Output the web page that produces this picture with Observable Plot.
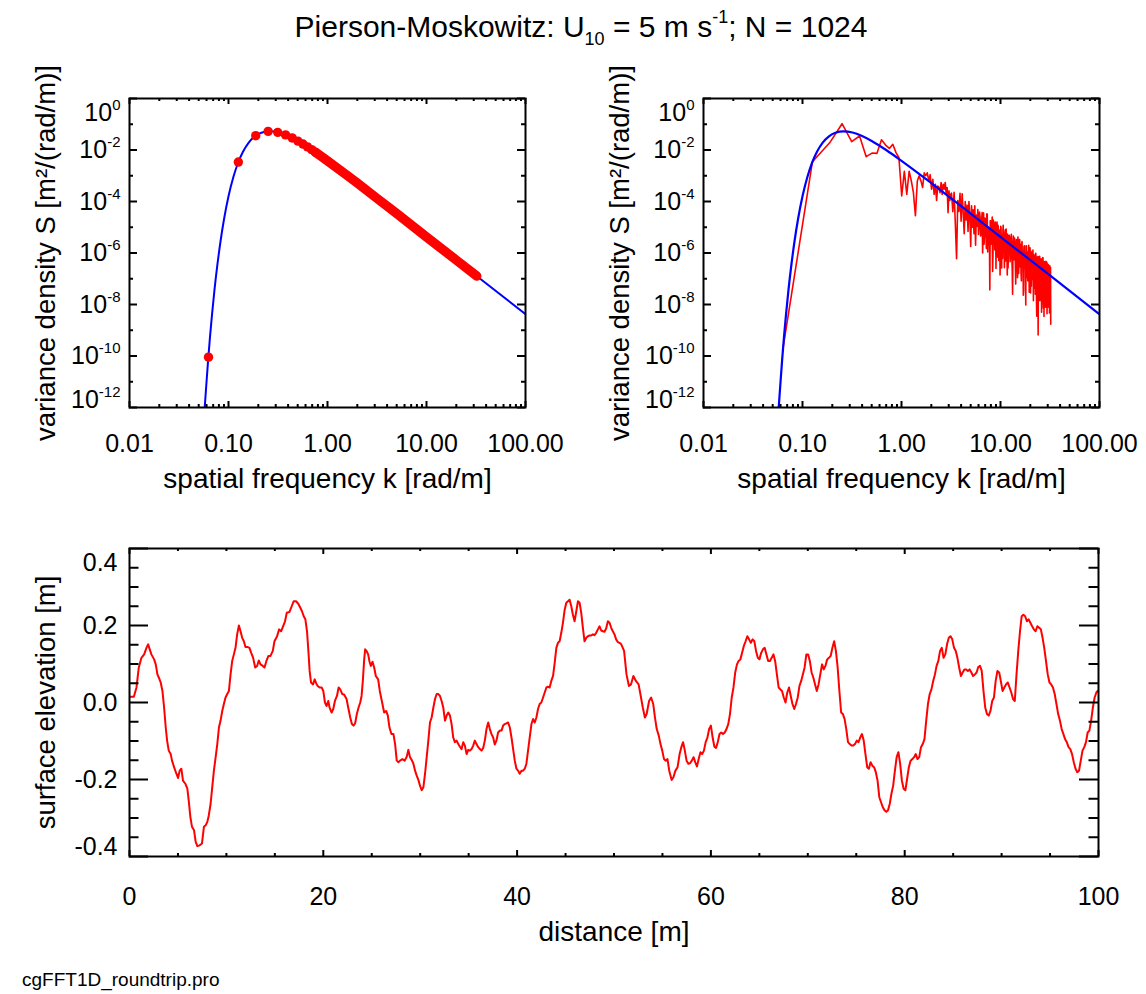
<!DOCTYPE html>
<html>
<head>
<meta charset="utf-8">
<script src="https://cdn.jsdelivr.net/npm/d3@7"></script>
<script src="https://cdn.jsdelivr.net/npm/@observablehq/plot@0.6"></script>
<style>
  html, body { margin: 0; padding: 0; background: #fff; }
  #page { position: relative; width: 1146px; height: 994px; background: #fff; overflow: hidden;
          font-family: "Liberation Sans", Arial, Helvetica, sans-serif; color: #000; }
  .panel { position: absolute; }
  #title { position: absolute; left: 0; width: 1162px; top: 9px; text-align: center; font-size: 30px;
           line-height: 36px; white-space: nowrap; z-index: 2; }
  #title .sub { font-size: 0.6em; position: relative; top: 0.45em; }
  #title .sup { font-size: 0.6em; position: relative; top: -0.8em; }
  #caption { position: absolute; left: 22px; top: 969px; font-size: 19px; line-height: 22px; z-index: 2; }
</style>
</head>
<body>
<div id="page">
  <div id="title">Pierson-Moskowitz: U<span class="sub">10</span> = 5 m s<span class="sup">-1</span>; N = 1024</div>
  <div id="specLeft" class="panel" style="left:0px;top:60px"></div>
  <div id="specRight" class="panel" style="left:575px;top:60px"></div>
  <div id="elev" class="panel" style="left:0px;top:520px"></div>
  <div id="caption">cgFFT1D_roundtrip.pro</div>
</div>
<script>
// ---------------- data ----------------
// Pierson-Moskowitz model spectrum (blue curve): wavenumber k [rad/m], S [m^2/(rad/m)]
const modelK = [0.0575, 0.060, 0.0622, 0.065, 0.068, 0.072, 0.077, 0.083, 0.090, 0.100,
                0.112, 0.125, 0.140, 0.160, 0.185, 0.215, 0.26, 0.32, 0.40, 0.50,
                0.70, 1.0, 2.0, 5.0, 10, 30, 100];
const modelS = [1.0e-12, 1.0e-11, 6.6e-11, 5.4e-10, 3.7e-9, 3.4e-8, 3.2e-7, 2.8e-6, 2.0e-5, 1.6e-4,
                8.9e-4, 3.2e-3, 8.5e-3, 0.0194, 0.034, 0.047, 0.053, 0.048, 0.035, 0.0225,
                0.0100, 3.8e-3, 5.2e-4, 3.4e-5, 4.2e-6, 1.57e-7, 4.2e-9];

// sampled spectrum (red dots, left panel): first harmonics one by one
const sampleK = [0.0628, 0.1257, 0.1885, 0.2513, 0.3142, 0.3770, 0.4398, 0.5027, 0.5655, 0.6283, 0.6912, 0.7540];
const sampleS = [9.0e-11, 3.4e-3, 0.036, 0.053, 0.0485, 0.0385, 0.0294, 0.0222, 0.0170, 0.0132, 0.0103, 0.0082];
// the dense run of overlapping dots from k = 0.75 to the Nyquist wavenumber
const sampleBandK = [0.754, 0.88, 1.0, 1.5, 2.0, 3.0, 5.0, 10, 20, 32.17];
const sampleBandS = [0.0082, 5.4e-3, 3.8e-3, 1.2e-3, 5.2e-4, 1.55e-4, 3.4e-5, 4.2e-6, 5.3e-7, 1.27e-7];

// round-trip (FFT of the surface) spectrum, red line in the right panel
const roundK = [
  0.063,0.126,0.188,0.251,0.314,0.377,0.440,0.503,0.565,0.628,
  0.691,0.754,0.817,0.880,0.942,1.005,1.068,1.131,1.194,1.257,
  1.319,1.382,1.445,1.508,1.571,1.634,1.696,1.759,1.822,1.885,
  1.948,2.011,2.073,2.136,2.199,2.262,2.325,2.388,2.450,2.513,
  2.576,2.639,2.702,2.765,2.827,2.890,2.953,3.016,3.079,3.142,
  3.2,3.3,3.4,3.5,3.6,3.7,3.8,3.9,4.0,4.1,
  4.2,4.3,4.4,4.5,4.6,4.7,4.8,4.9,5.0,5.1,
  5.2,5.3,5.4,5.5,5.6,5.7,5.8,5.9,6.0,
  6.15,6.3,6.45,6.6,6.75,6.9,7.05,7.2,7.35,7.5,
  7.65,7.8,7.95,8.1,8.25,8.4,8.55,8.7,8.85,9.0,
  9.15,9.3,9.45,9.6,9.75,9.9,10.05,10.2,10.35,10.5,
  10.65,10.8,10.95,11.1,11.25,11.4,11.55,11.7,11.85,12.0,
  12.25,12.5,12.75,13,13.25,13.5,13.75,14,14.25,14.5,
  14.75,15,15.25,15.5,15.75,16,16.25,16.5,16.75,17,
  17.25,17.5,17.75,18,18.25,18.5,18.75,19,19.25,19.5,
  19.75,20,20.25,20.5,20.75,21,21.25,21.5,21.75,22,
  22.25,22.5,22.75,23,23.25,23.5,23.75,24,24.25,24.5,
  24.75,25,25.25,25.5,25.75,26,26.25,26.5,26.75,27,
  27.25,27.5,27.75,28,28.25,28.5,28.75,29,29.25,29.5,
  29.75,30,30.25,30.5,30.75,31,31.25,31.5,31.75,32,
  32.17];
const roundS = [
  1.6e-10,3.5e-3,1.9e-2,0.105,0.021,0.035,5.5e-3,7.6e-3,7.4e-3,0.025,
  0.0155,0.0115,0.0166,0.0079,0.005,1.66e-4,1.5e-3,1.9e-4,1.5e-3,6.3e-4,
  2.2e-4,2.8e-5,6.3e-4,1e-3,6.3e-4,3.5e-4,1.3e-3,1e-3,1.3e-3,6.3e-4,
  1.1e-3,3e-4,7.3e-4,1.9e-4,4.7e-4,1.1e-4,4e-4,3.5e-4,2.2e-4,5.5e-4,
  1.9e-4,4.7e-4,3e-4,5.5e-4,1.9e-4,3.5e-4,3.7e-5,2.6e-4,1.1e-4,1.9e-4,
  2.1e-4,4.0e-5,2.3e-4,1.3e-5,6.0e-7,1.1e-4,4.1e-5,2.1e-4,1.7e-5,2.0e-4,
  3.8e-5,5.6e-6,1.0e-4,1.9e-5,7.2e-5,6.8e-6,1.0e-4,3.0e-5,1.8e-6,6.8e-5,
  1.0e-5,4.8e-5,5.6e-6,6.8e-5,2.0e-6,3.0e-5,1.1e-5,4.9e-5,5.2e-6,
  3.9e-5,4.6e-6,2.1e-5,1.0e-6,3.6e-5,6.8e-6,2.0e-5,1.5e-6,3.2e-5,6.8e-6,
  2.0e-6,3.7e-8,1.8e-5,3.4e-6,2.5e-5,9.5e-7,1.1e-5,3.4e-6,1.6e-5,2.5e-7,
  7.4e-6,1.8e-6,1.2e-5,5.1e-7,7.6e-6,1.4e-7,1.1e-5,2.1e-6,5.0e-6,6.2e-7,
  1.2e-5,2.2e-6,2.7e-7,6.5e-6,7.9e-7,8.5e-6,2.3e-6,1.4e-7,4.3e-6,8.1e-7,
  4.9e-6,4.6e-7,3.5e-6,8.1e-7,2.5e-8,4.6e-6,5.5e-7,2.0e-6,6.2e-8,3.3e-6,
  7.1e-7,4.2e-6,1.6e-7,1.9e-6,2.9e-7,2.2e-6,8.3e-8,2.8e-6,6.0e-7,2.3e-8,
  1.7e-6,2.6e-7,1.0e-6,9.5e-9,1.9e-6,1.1e-7,1.1e-6,2.6e-7,2.0e-6,3.0e-8,
  7.2e-7,1.4e-7,1.2e-6,5.1e-8,7.9e-7,2.4e-7,1.3e-6,1.4e-8,4.4e-7,8.3e-8,
  8.1e-7,2.5e-8,9.5e-7,2.3e-7,3.5e-9,6.9e-7,4.2e-8,6.5e-10,5.0e-7,9.5e-8,
  7.4e-7,1.4e-8,3.5e-7,6.8e-8,5.9e-7,5.0e-9,3.9e-7,9.5e-8,6.6e-7,1.8e-8,
  2.2e-7,3.4e-9,4.2e-7,6.5e-8,3.2e-7,7.8e-9,4.8e-7,2.9e-8,2.2e-7,4.4e-9,
  3.8e-7,8.3e-8,1.0e-8,3.2e-7,3.1e-8,2.4e-7,4.7e-9,3.2e-7,1.4e-8,2.7e-7,
  1.7e-9];
// further harmonics of the dense high-wavenumber part (interleaved with the above)
const roundK2 = [
  6.225,6.375,6.525,6.675,6.825,6.975,7.125,7.275,7.425,7.575,
  7.725,7.875,8.025,8.175,8.325,8.475,8.625,8.775,8.925,9.075,
  9.225,9.375,9.525,9.675,9.825,9.975,10.125,10.275,10.425,10.575,
  10.725,10.875,11.025,11.175,11.325,11.475,11.625,11.775,11.925,12.125,
  12.375,12.625,12.875,13.125,13.375,13.625,13.875,14.125,14.375,14.625,
  14.875,15.125,15.375,15.625,15.875,16.125,16.375,16.625,16.875,17.125,
  17.375,17.625,17.875,18.125,18.375,18.625,18.875,19.125,19.375,19.625,
  19.875,20.125,20.375,20.625,20.875,21.125,21.375,21.625,21.875,22.125,
  22.375,22.625,22.875,23.125,23.375,23.625,23.875,24.125,24.375,24.625,
  24.875,25.125,25.375,25.625,25.875,26.125,26.375,26.625,26.875,27.125,
  27.375,27.625,27.875,28.125,28.375,28.625,28.875,29.125,29.375,29.625,
  29.875,30.125,30.375,30.625,30.875,31.125,31.375,31.625,31.875,32.085];
const roundS2 = [
  2.4e-5,5.6e-6,3.7e-5,9.5e-6,2.2e-6,2.3e-5,5.0e-6,3.3e-5,1.1e-6,1.0e-5,
  4.8e-6,1.8e-5,2.2e-6,1.2e-5,1.9e-7,1.9e-5,4.4e-6,1.3e-6,1.3e-5,4.8e-6,
  1.6e-5,6.9e-7,8.3e-6,2.0e-6,5.9e-6,1.1e-6,9.5e-6,2.6e-7,3.9e-6,7.6e-6,
  1.1e-6,5.5e-6,1.7e-6,8.0e-6,4.9e-7,3.7e-6,1.1e-6,5.4e-6,2.6e-7,4.5e-6,
  3.8e-6,8.9e-7,5.3e-6,2.5e-7,2.4e-6,8.9e-7,3.8e-6,4.0e-7,1.5e-6,2.9e-6,
  1.1e-7,2.0e-6,3.9e-7,3.3e-6,7.1e-7,1.7e-7,2.0e-6,4.9e-7,1.2e-6,3.5e-8,
  1.9e-6,6.5e-7,1.9e-7,1.9e-6,3.6e-7,1.1e-6,8.3e-8,8.0e-7,1.2e-6,1.9e-7,
  1.6e-6,2.8e-8,8.3e-7,3.2e-7,1.1e-6,9.4e-8,4.6e-7,8.8e-7,4.3e-8,6.5e-7,
  1.6e-7,9.7e-7,3.0e-7,9.1e-9,6.2e-7,1.1e-7,7.3e-7,5.1e-8,3.9e-7,1.9e-7,
  7.3e-7,1.8e-8,4.4e-7,1.1e-7,5.1e-7,3.1e-8,3.1e-7,1.2e-7,6.5e-7,7.1e-9,
  3.4e-7,5.3e-8,4.6e-7,1.3e-7,1.6e-8,3.8e-7,5.9e-8,2.3e-7,4.4e-7,2.2e-8,
  2.7e-7,8.2e-8,3.6e-7,7.9e-9,1.9e-7,4.7e-8,2.9e-7,2.3e-8,2.5e-7,5.4e-8];

// surface elevation [m] versus distance [m]
const distance = [
  0.03,0.45,0.72,0.96,1.23,1.51,1.75,1.92,2.26,2.54,
  2.71,2.88,3.02,3.22,3.40,3.57,3.74,3.88,4.05,4.25,
  4.39,4.60,4.84,5.01,5.18,5.35,5.52,5.76,5.97,6.11,
  6.28,6.45,6.66,6.83,7.00,7.24,7.48,7.68,7.86,8.03,
  8.16,8.37,8.54,8.71,8.89,9.06,9.23,9.40,9.57,9.74,
  9.91,10.09,10.26,10.43,10.60,10.77,10.94,11.11,11.29,11.46,
  11.63,11.80,11.97,12.21,12.38,12.56,12.76,12.97,13.17,13.34,
  13.52,13.76,13.93,14.13,14.34,14.55,14.79,14.96,15.23,15.44,
  15.64,15.85,16.05,16.23,16.50,16.74,16.95,17.19,17.43,17.63,
  17.80,17.98,18.15,18.32,18.46,18.59,18.73,18.94,19.11,19.28,
  19.42,19.62,19.83,20.00,20.17,20.34,20.51,20.65,20.86,21.03,
  21.20,21.41,21.58,21.75,21.96,22.16,22.40,22.57,22.78,22.95,
  23.12,23.29,23.46,23.64,23.81,23.95,24.08,24.22,24.32,24.46,
  24.63,24.77,24.91,25.08,25.25,25.42,25.66,25.83,26.04,26.28,
  26.48,26.66,26.83,27.03,27.24,27.41,27.58,27.75,27.92,28.16,
  28.40,28.61,28.78,28.95,29.12,29.30,29.47,29.64,29.81,29.98,
  30.15,30.33,30.50,30.67,30.84,31.01,31.18,31.36,31.53,31.70,
  31.87,32.04,32.21,32.38,32.56,32.73,32.90,33.07,33.24,33.41,
  33.58,33.76,33.93,34.10,34.27,34.44,34.61,34.79,34.96,35.13,
  35.30,35.47,35.64,35.81,35.99,36.16,36.33,36.50,36.67,36.84,
  37.02,37.19,37.36,37.53,37.70,37.87,38.04,38.22,38.39,38.56,
  38.73,38.90,39.07,39.25,39.42,39.59,39.76,39.93,40.10,40.27,
  40.45,40.62,40.79,40.96,41.13,41.30,41.48,41.65,41.82,41.99,
  42.16,42.33,42.50,42.68,42.85,43.02,43.19,43.36,43.53,43.71,
  43.88,44.05,44.22,44.39,44.56,44.73,44.91,45.08,45.25,45.42,
  45.59,45.76,45.93,46.11,46.28,46.45,46.62,46.79,46.96,47.14,
  47.31,47.48,47.65,47.82,47.99,48.16,48.34,48.51,48.68,48.85,
  49.02,49.19,49.37,49.54,49.71,49.88,50.05,50.22,50.39,50.57,
  50.75,51.04,51.29,51.54,51.75,52.00,52.26,52.54,52.76,52.97,
  53.19,53.37,53.62,53.83,54.05,54.23,54.41,54.62,54.80,54.98,
  55.16,55.34,55.52,55.70,55.95,56.13,56.34,56.56,56.77,56.95,
  57.13,57.31,57.49,57.67,57.85,58.03,58.21,58.38,58.56,58.74,
  58.92,59.10,59.28,59.46,59.64,59.82,60.00,60.18,60.36,60.53,
  60.71,60.89,61.07,61.25,61.43,61.61,61.79,61.97,62.15,62.33,
  62.51,62.69,62.86,63.04,63.22,63.40,63.58,63.76,63.94,64.12,
  64.30,64.48,64.66,64.84,65.01,65.19,65.37,65.55,65.73,65.91,
  66.09,66.27,66.45,66.63,66.81,66.99,67.17,67.34,67.52,67.70,
  67.88,68.06,68.24,68.42,68.60,68.78,68.96,69.14,69.32,69.49,
  69.67,69.85,70.03,70.21,70.39,70.57,70.75,70.93,71.11,71.29,
  71.47,71.65,71.82,72.00,72.18,72.36,72.54,72.72,72.90,73.08,
  73.26,73.44,73.62,73.80,73.97,74.15,74.33,74.51,74.69,74.87,
  75.05,75.23,75.41,75.59,75.77,75.95,76.13,76.30,76.48,76.66,
  76.84,77.02,77.20,77.38,77.56,77.74,77.92,78.10,78.28,78.46,
  78.63,78.81,78.99,79.17,79.35,79.53,79.71,79.89,80.07,80.25,
  80.43,80.61,80.79,80.97,81.14,81.32,81.50,81.68,81.86,82.04,
  82.22,82.40,82.58,82.76,82.94,83.12,83.29,83.47,83.65,83.83,
  84.01,84.19,84.37,84.55,84.73,84.91,85.09,85.27,85.44,85.62,
  85.80,85.98,86.16,86.34,86.52,86.70,86.88,87.06,87.24,87.42,
  87.59,87.77,87.95,88.13,88.31,88.49,88.67,88.85,89.03,89.21,
  89.39,89.57,89.75,89.92,90.10,90.28,90.46,90.64,90.82,91.00,
  91.18,91.36,91.54,91.72,91.90,92.07,92.25,92.43,92.61,92.79,
  92.97,93.15,93.33,93.51,93.69,93.87,94.05,94.23,94.40,94.58,
  94.76,94.94,95.12,95.30,95.48,95.66,95.84,96.02,96.20,96.38,
  96.55,96.73,96.91,97.09,97.27,97.45,97.63,97.81,97.99,98.17,
  98.35,98.53,98.71,98.88,99.06,99.24,99.42,99.60,99.78,99.92];
const elevation = [
  0.015,0.015,0.039,0.091,0.116,0.125,0.142,0.151,0.125,0.112,
  0.099,0.073,0.065,0.052,0.030,-0.013,-0.065,-0.099,-0.125,-0.134,
  -0.151,-0.168,-0.185,-0.196,-0.177,-0.172,-0.203,-0.211,-0.224,-0.254,
  -0.297,-0.323,-0.332,-0.362,-0.373,-0.371,-0.366,-0.323,-0.319,-0.310,
  -0.297,-0.263,-0.220,-0.177,-0.142,-0.108,-0.065,-0.047,-0.022,-0.004,
  0.013,0.022,0.030,0.073,0.108,0.125,0.142,0.177,0.200,0.185,
  0.168,0.159,0.144,0.144,0.142,0.129,0.116,0.091,0.095,0.109,
  0.099,0.095,0.091,0.108,0.121,0.121,0.134,0.159,0.172,0.190,
  0.185,0.198,0.211,0.233,0.235,0.250,0.263,0.263,0.256,0.246,
  0.237,0.224,0.216,0.185,0.134,0.082,0.052,0.047,0.060,0.049,
  0.043,0.039,0.039,0.030,0.000,-0.009,0.004,-0.013,-0.026,-0.017,
  0.004,0.017,0.039,0.034,0.022,0.020,0.009,-0.013,-0.039,-0.056,
  -0.060,-0.054,-0.030,-0.013,0.000,0.017,0.056,0.112,0.138,0.134,
  0.125,0.106,0.095,0.106,0.091,0.069,0.060,0.030,0.004,-0.026,
  -0.022,-0.034,-0.065,-0.082,-0.082,-0.108,-0.151,-0.155,-0.151,-0.147,
  -0.151,-0.141,-0.123,-0.142,-0.149,-0.159,-0.177,-0.190,-0.201,-0.216,
  -0.228,-0.220,-0.185,-0.142,-0.099,-0.052,-0.039,-0.013,0.009,0.022,
  0.022,0.017,0.004,-0.013,-0.047,-0.034,-0.026,-0.034,-0.056,-0.091,
  -0.103,-0.099,-0.108,-0.115,-0.121,-0.103,-0.112,-0.134,-0.123,-0.125,
  -0.121,-0.112,-0.099,-0.108,-0.116,-0.121,-0.125,-0.118,-0.099,-0.069,
  -0.052,-0.069,-0.082,-0.091,-0.109,-0.099,-0.078,-0.073,-0.073,-0.060,
  -0.056,-0.054,-0.052,-0.065,-0.091,-0.121,-0.151,-0.172,-0.177,-0.185,
  -0.177,-0.177,-0.172,-0.159,-0.125,-0.091,-0.056,-0.043,-0.052,-0.039,
  -0.017,-0.004,0.000,0.013,0.026,0.039,0.041,0.039,0.056,0.069,
  0.103,0.142,0.155,0.159,0.181,0.207,0.241,0.259,0.263,0.267,
  0.250,0.228,0.211,0.237,0.263,0.259,0.233,0.194,0.159,0.168,
  0.172,0.174,0.174,0.177,0.175,0.181,0.190,0.198,0.187,0.185,
  0.184,0.192,0.211,0.207,0.194,0.185,0.177,0.164,0.157,0.155,
  0.151,0.134,0.073,0.043,0.047,0.069,0.056,0.047,0.017,-0.013,
  -0.039,-0.030,0.004,0.013,-0.004,-0.039,-0.069,-0.086,-0.108,-0.125,
  -0.147,-0.151,-0.147,-0.177,-0.201,-0.194,-0.177,-0.168,-0.134,-0.116,
  -0.103,-0.125,-0.151,-0.159,-0.158,-0.151,-0.142,-0.155,-0.166,-0.147,
  -0.129,-0.134,-0.125,-0.103,-0.091,-0.069,-0.060,-0.091,-0.115,-0.118,
  -0.103,-0.082,-0.078,-0.082,-0.078,-0.069,-0.056,-0.030,0.013,0.039,
  0.078,0.099,0.108,0.112,0.129,0.147,0.159,0.172,0.164,0.155,
  0.164,0.159,0.134,0.116,0.112,0.129,0.138,0.142,0.125,0.108,
  0.108,0.116,0.125,0.108,0.073,0.039,0.034,0.030,0.013,0.000,
  0.026,0.039,0.017,-0.004,-0.017,-0.004,0.013,0.043,0.056,0.073,
  0.091,0.125,0.125,0.108,0.078,0.065,0.047,0.030,0.047,0.073,
  0.099,0.086,0.095,0.112,0.116,0.121,0.142,0.159,0.134,0.091,
  0.030,-0.026,-0.030,-0.043,-0.069,-0.103,-0.108,-0.112,-0.112,-0.108,
  -0.099,-0.103,-0.091,-0.082,-0.099,-0.134,-0.168,-0.172,-0.155,-0.164,
  -0.168,-0.181,-0.203,-0.246,-0.259,-0.272,-0.280,-0.284,-0.280,-0.263,
  -0.237,-0.216,-0.177,-0.142,-0.129,-0.159,-0.203,-0.224,-0.228,-0.198,
  -0.168,-0.151,-0.147,-0.142,-0.134,-0.147,-0.142,-0.116,-0.108,-0.095,
  -0.047,-0.004,0.022,0.034,0.056,0.073,0.095,0.108,0.134,0.142,
  0.116,0.125,0.151,0.168,0.172,0.164,0.142,0.134,0.116,0.091,
  0.069,0.078,0.086,0.086,0.082,0.086,0.078,0.069,0.073,0.078,
  0.092,0.095,0.082,0.030,-0.013,-0.030,-0.034,-0.022,0.004,0.013,
  0.056,0.082,0.078,0.056,0.030,0.039,0.047,0.052,0.039,0.026,
  0.009,0.004,0.073,0.134,0.185,0.224,0.228,0.224,0.211,0.216,
  0.207,0.198,0.190,0.185,0.198,0.194,0.190,0.168,0.142,0.108,
  0.073,0.052,0.047,0.039,0.022,-0.004,-0.030,-0.047,-0.069,-0.082,
  -0.095,-0.103,-0.116,-0.121,-0.134,-0.155,-0.172,-0.181,-0.177,-0.151,
  -0.125,-0.116,-0.103,-0.078,-0.073,-0.047,-0.013,0.013,0.026,0.030];

// ticks and tick labels
const specXMajor = [0.01, 0.1, 1, 10, 100];
const specXLabels = ["0.01", "0.10", "1.00", "10.00", "100.00"];
const specXMinor = [0.02,0.03,0.04,0.05,0.06,0.07,0.08,0.09, 0.2,0.3,0.4,0.5,0.6,0.7,0.8,0.9,
                    2,3,4,5,6,7,8,9, 20,30,40,50,60,70,80,90];
const specYMajor = [1e-12, 1e-10, 1e-8, 1e-6, 1e-4, 1e-2, 1];
const specYLabels = ["10^-12", "10^-10", "10^-8", "10^-6", "10^-4", "10^-2", "10^0"];
const specYMinor = [1e-11, 1e-9, 1e-7, 1e-5, 1e-3, 1e-1];
const elevXMajor = [0, 20, 40, 60, 80, 100];
const elevXLabels = ["0", "20", "40", "60", "80", "100"];
const elevXMinor = [5,10,15,25,30,35,45,50,55,65,70,75,85,90,95];
const elevYMajor = [-0.4, -0.2, 0, 0.2, 0.4];
const elevYLabels = ["-0.4", "-0.2", "0.0", "0.2", "0.4"];
const elevYMinor = [-0.35,-0.3,-0.25,-0.15,-0.1,-0.05,0.05,0.1,0.15,0.25,0.3,0.35];

const specXTitle = "spatial frequency k [rad/m]";
const specYTitle = "variance density S [m\u00B2/(rad/m)]";
const elevXTitle = "distance [m]";
const elevYTitle = "surface elevation [m]";

// ---------------- tables ----------------
const modelTable = modelK.map((k, i) => ({k, s: modelS[i]}));
const sampleTable = sampleK.map((k, i) => ({k, s: sampleS[i]}));
const bandTable = sampleBandK.map((k, i) => ({k, s: sampleBandS[i]}));
const roundTable = roundK.map((k, i) => ({k, s: roundS[i]}))
  .concat(roundK2.map((k, i) => ({k, s: roundS2[i]})))
  .sort((a, b) => a.k - b.k);
const elevTable = distance.map((d, i) => ({d, v: elevation[i]}));

// ---------------- helpers ----------------
const FONT = '"Liberation Sans", Arial, Helvetica, sans-serif';
const STYLE = {fontFamily: FONT, fontSize: "25px", color: "black", background: "transparent", overflow: "visible"};
const TICK = {stroke: "black", strokeWidth: 2};
const lab = (vals, labels) => d => labels[vals.indexOf(d)];

function supLabels(svg) {
  const NS = "http://www.w3.org/2000/svg";
  svg.querySelectorAll("text").forEach(t => {
    const m = /^10\^(.+)$/.exec(t.textContent);
    if (!m) return;
    t.textContent = "10";
    const ts = document.createElementNS(NS, "tspan");
    ts.setAttribute("dy", "-11");
    ts.setAttribute("font-size", "15");
    ts.textContent = m[1];
    t.appendChild(ts);
  });
}

function spectrumPlot({width, marginLeft, marginRight, marks}) {
  const height = 460, marginTop = 38, marginBottom = 113;
  const iw = width - marginLeft - marginRight, ih = height - marginTop - marginBottom;
  const yAx = {tickSize: 0, tickPadding: 9, tickFormat: lab(specYMajor, specYLabels), fontSize: 25, label: null};
  const svg = Plot.plot({
    width, height, marginLeft, marginRight, marginTop, marginBottom,
    x: {type: "log", domain: [0.01, 100]},
    y: {type: "log", domain: [1e-12, 1]},
    style: STYLE,
    marks: [
      ...marks,
      Plot.tickX(specXMajor, {x: d => d, insetTop: ih - 6, ...TICK}),
      Plot.tickX(specXMajor, {x: d => d, insetBottom: ih - 6, ...TICK}),
      Plot.tickX(specXMinor, {x: d => d, insetTop: ih - 3, ...TICK}),
      Plot.tickX(specXMinor, {x: d => d, insetBottom: ih - 3, ...TICK}),
      Plot.tickY(specYMajor, {y: d => d, insetRight: iw - 8, ...TICK}),
      Plot.tickY(specYMajor, {y: d => d, insetLeft: iw - 8, ...TICK}),
      Plot.tickY(specYMinor, {y: d => d, insetRight: iw - 4, ...TICK}),
      Plot.tickY(specYMinor, {y: d => d, insetLeft: iw - 4, ...TICK}),
      Plot.frame({stroke: "black", strokeWidth: 2}),
      Plot.axisX({ticks: specXMajor, tickSize: 0, tickPadding: 27, tickFormat: lab(specXMajor, specXLabels), fontSize: 25, label: null}),
      Plot.axisY({ticks: specYMajor.slice(1, -1), ...yAx}),
      Plot.axisY({ticks: specYMajor.slice(-1), ...yAx, dy: 14}),
      Plot.axisY({ticks: specYMajor.slice(0, 1), ...yAx, dy: -8}),
      Plot.text([specXTitle], {text: d => d, frameAnchor: "bottom", textAnchor: "middle", dy: 80, fontSize: 28}),
      Plot.text([specYTitle], {text: d => d, frameAnchor: "left", textAnchor: "middle", dx: -83, rotate: -90, fontSize: 27.5})
    ]
  });
  supLabels(svg);
  return svg;
}

// ---------------- left: model spectrum and its samples ----------------
document.getElementById("specLeft").appendChild(spectrumPlot({
  width: 575, marginLeft: 129, marginRight: 50,
  marks: [
    Plot.line(modelTable, {x: "k", y: "s", stroke: "#0000ff", strokeWidth: 2, curve: "monotone-x", clip: true}),
    Plot.line(bandTable, {x: "k", y: "s", stroke: "#ff0000", strokeWidth: 9.4, strokeLinecap: "round", strokeLinejoin: "round"}),
    Plot.dot(sampleTable, {x: "k", y: "s", r: 4.7, fill: "#ff0000", stroke: "none"})
  ]
}));

// ---------------- right: round-trip spectrum ----------------
document.getElementById("specRight").appendChild(spectrumPlot({
  width: 571, marginLeft: 128, marginRight: 47,
  marks: [
    Plot.line(roundTable, {x: "k", y: "s", stroke: "#ff0000", strokeWidth: 1.6, clip: true}),
    Plot.line(modelTable, {x: "k", y: "s", stroke: "#0000ff", strokeWidth: 2.2, curve: "monotone-x", clip: true})
  ]
}));

// ---------------- bottom: surface elevation ----------------
{
  const width = 1146, height = 474, marginLeft = 129, marginRight = 48, marginTop = 28, marginBottom = 138;
  const iw = width - marginLeft - marginRight, ih = height - marginTop - marginBottom;
  const yAx = {tickSize: 0, tickPadding: 12, tickFormat: lab(elevYMajor, elevYLabels), fontSize: 25, label: null};
  const svg = Plot.plot({
    width, height, marginLeft, marginRight, marginTop, marginBottom,
    x: {domain: [0, 100]},
    y: {domain: [-0.4, 0.4]},
    style: STYLE,
    marks: [
      Plot.line(elevTable, {x: "d", y: "v", stroke: "#ff0000", strokeWidth: 2, clip: true}),
      Plot.tickX(elevXMajor, {x: d => d, insetTop: ih - 6, ...TICK}),
      Plot.tickX(elevXMajor, {x: d => d, insetBottom: ih - 6, ...TICK}),
      Plot.tickX(elevXMinor, {x: d => d, insetTop: ih - 3, ...TICK}),
      Plot.tickX(elevXMinor, {x: d => d, insetBottom: ih - 3, ...TICK}),
      Plot.tickY(elevYMajor, {y: d => d, insetRight: iw - 19, ...TICK}),
      Plot.tickY(elevYMajor, {y: d => d, insetLeft: iw - 19, ...TICK}),
      Plot.tickY(elevYMinor, {y: d => d, insetRight: iw - 9.5, ...TICK}),
      Plot.tickY(elevYMinor, {y: d => d, insetLeft: iw - 9.5, ...TICK}),
      Plot.frame({stroke: "black", strokeWidth: 2}),
      Plot.axisX({ticks: elevXMajor, tickSize: 0, tickPadding: 31, tickFormat: lab(elevXMajor, elevXLabels), fontSize: 25, label: null}),
      Plot.axisY({ticks: elevYMajor.slice(1, -1), ...yAx}),
      Plot.axisY({ticks: elevYMajor.slice(-1), ...yAx, dy: 14}),
      Plot.axisY({ticks: elevYMajor.slice(0, 1), ...yAx, dy: -10}),
      Plot.text([elevXTitle], {text: d => d, frameAnchor: "bottom", textAnchor: "middle", dy: 84, fontSize: 28}),
      Plot.text([elevYTitle], {text: d => d, frameAnchor: "left", textAnchor: "middle", dx: -83, rotate: -90, fontSize: 27.5})
    ]
  });
  document.getElementById("elev").appendChild(svg);
}
</script>
</body>
</html>
